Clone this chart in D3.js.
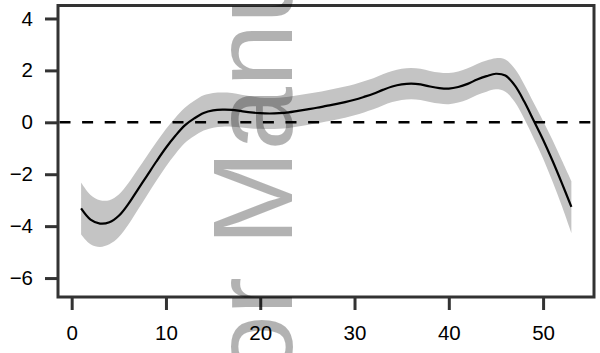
<!DOCTYPE html>
<html>
<head>
<meta charset="utf-8">
<script src="https://cdn.jsdelivr.net/npm/d3@7"></script>
<style>
  html, body { margin: 0; padding: 0; background: #fff; }
  svg { display: block; font-family: "Liberation Sans", Arial, sans-serif; }
</style>
</head>
<body>
<div id="chart"></div>
<script>
// values
const xValues = [1, 2, 3, 4, 5, 6, 7, 8, 9, 10, 11, 12, 13, 14, 15, 16, 17, 18, 19, 20,
  21, 22, 23, 24, 25, 26, 27, 28, 29, 30, 31, 32, 33, 34, 35, 36, 37, 38, 39, 40,
  41, 42, 43, 44, 45, 46, 47, 48, 49, 50, 51, 52, 53];
const fitValues = [-3.32, -3.75, -3.9, -3.85, -3.6, -3.15, -2.6, -2.05, -1.5, -0.98, -0.52, -0.12, 0.15, 0.36, 0.46, 0.49, 0.48, 0.43, 0.38, 0.35,
  0.34, 0.35, 0.38, 0.44, 0.5, 0.56, 0.63, 0.7, 0.78, 0.87, 0.98, 1.1, 1.25, 1.38, 1.46, 1.49, 1.46, 1.38, 1.32, 1.3,
  1.36, 1.48, 1.65, 1.78, 1.87, 1.8, 1.42, 0.8, 0.07, -0.67, -1.48, -2.35, -3.26];
const upperValues = [-2.32, -2.8, -3.0, -3.0, -2.78, -2.35, -1.82, -1.29, -0.76, -0.26, 0.18, 0.56, 0.83, 1.04, 1.13, 1.15, 1.13, 1.06, 1.0, 0.95,
  0.94, 0.95, 0.98, 1.04, 1.1, 1.16, 1.23, 1.3, 1.38, 1.47, 1.58, 1.7, 1.85, 1.98, 2.06, 2.09, 2.06, 1.98, 1.92, 1.9,
  1.96, 2.08, 2.25, 2.38, 2.47, 2.42, 2.06, 1.46, 0.75, 0.05, -0.68, -1.47, -2.26];
const lowerValues = [-4.32, -4.7, -4.8, -4.7, -4.42, -3.95, -3.38, -2.81, -2.24, -1.7, -1.22, -0.8, -0.53, -0.32, -0.21, -0.17, -0.17, -0.2, -0.24, -0.25,
  -0.26, -0.25, -0.22, -0.16, -0.1, -0.04, 0.03, 0.1, 0.18, 0.27, 0.38, 0.5, 0.65, 0.78, 0.86, 0.89, 0.86, 0.78, 0.72, 0.7,
  0.76, 0.88, 1.05, 1.18, 1.27, 1.18, 0.78, 0.14, -0.61, -1.39, -2.28, -3.23, -4.26];
const xTicks = [0, 10, 20, 30, 40, 50];
const yTicks = [-6, -4, -2, 0, 2, 4];
const watermark = 'Author Manuscript';

const W = 600, H = 353;
const margin = { top: 5.5, right: 6, bottom: 56, left: 58 };
const width = W - margin.left - margin.right;
const height = H - margin.top - margin.bottom;

const svg = d3.select('#chart')
  .append('svg')
  .attr('width', W)
  .attr('height', H);

const g = svg.append('g')
  .attr('transform', `translate(${margin.left},${margin.top})`);

const x = d3.scaleLinear()
  .domain([-1.45, 55.4])
  .range([0, width]);

const y = d3.scaleLinear()
  .domain([-6.73, 4.5])
  .range([height, 0]);

const rows = xValues.map((v, i) => ({ x: v, fit: fitValues[i], lo: lowerValues[i], hi: upperValues[i] }));

// confidence band
g.append('path')
  .datum(rows)
  .attr('fill', '#c4c4c4')
  .attr('d', d3.area()
    .x(d => x(d.x))
    .y0(d => y(d.lo))
    .y1(d => y(d.hi))
    .curve(d3.curveCatmullRom));

// reference line at zero
g.append('line')
  .attr('x1', 1.5)
  .attr('x2', width - 1.5)
  .attr('y1', y(0))
  .attr('y2', y(0))
  .attr('stroke', '#000')
  .attr('stroke-width', 2.6)
  .attr('stroke-dasharray', '11,11.6');

// fitted curve
g.append('path')
  .datum(rows)
  .attr('fill', 'none')
  .attr('stroke', '#000')
  .attr('stroke-width', 2.2)
  .attr('d', d3.line()
    .x(d => x(d.x))
    .y(d => y(d.fit))
    .curve(d3.curveCatmullRom));

// axes
const xAxis = g.append('g')
  .attr('transform', `translate(0,${height})`)
  .call(d3.axisBottom(x).tickValues(xTicks).tickSize(13).tickPadding(15));

const yAxis = g.append('g')
  .call(d3.axisLeft(y).tickValues(yTicks).tickSize(13).tickPadding(12)
    .tickFormat(d => d < 0 ? '\u2212' + Math.abs(d) : String(d)));

[xAxis, yAxis].forEach(a => {
  a.select('.domain').remove();
  a.selectAll('.tick line').attr('stroke', '#333').attr('stroke-width', 3);
  a.selectAll('.tick text')
    .attr('fill', '#000')
    .style('font-size', '20.5px')
    .style('font-family', '"Liberation Sans", Arial, sans-serif');
});

// panel border
g.append('rect')
  .attr('x', 0)
  .attr('y', 0)
  .attr('width', width)
  .attr('height', height)
  .attr('fill', 'none')
  .attr('stroke', '#333')
  .attr('stroke-width', 3);

// watermark
svg.append('text')
  .attr('transform', 'translate(292,613) rotate(-90)')
  .attr('text-anchor', 'start')
  .style('font-size', '114px')
  .style('font-family', '"Liberation Sans", Arial, sans-serif')
  .attr('fill', '#000')
  .attr('fill-opacity', 0.3)
  .text(watermark);
</script>
</body>
</html>
